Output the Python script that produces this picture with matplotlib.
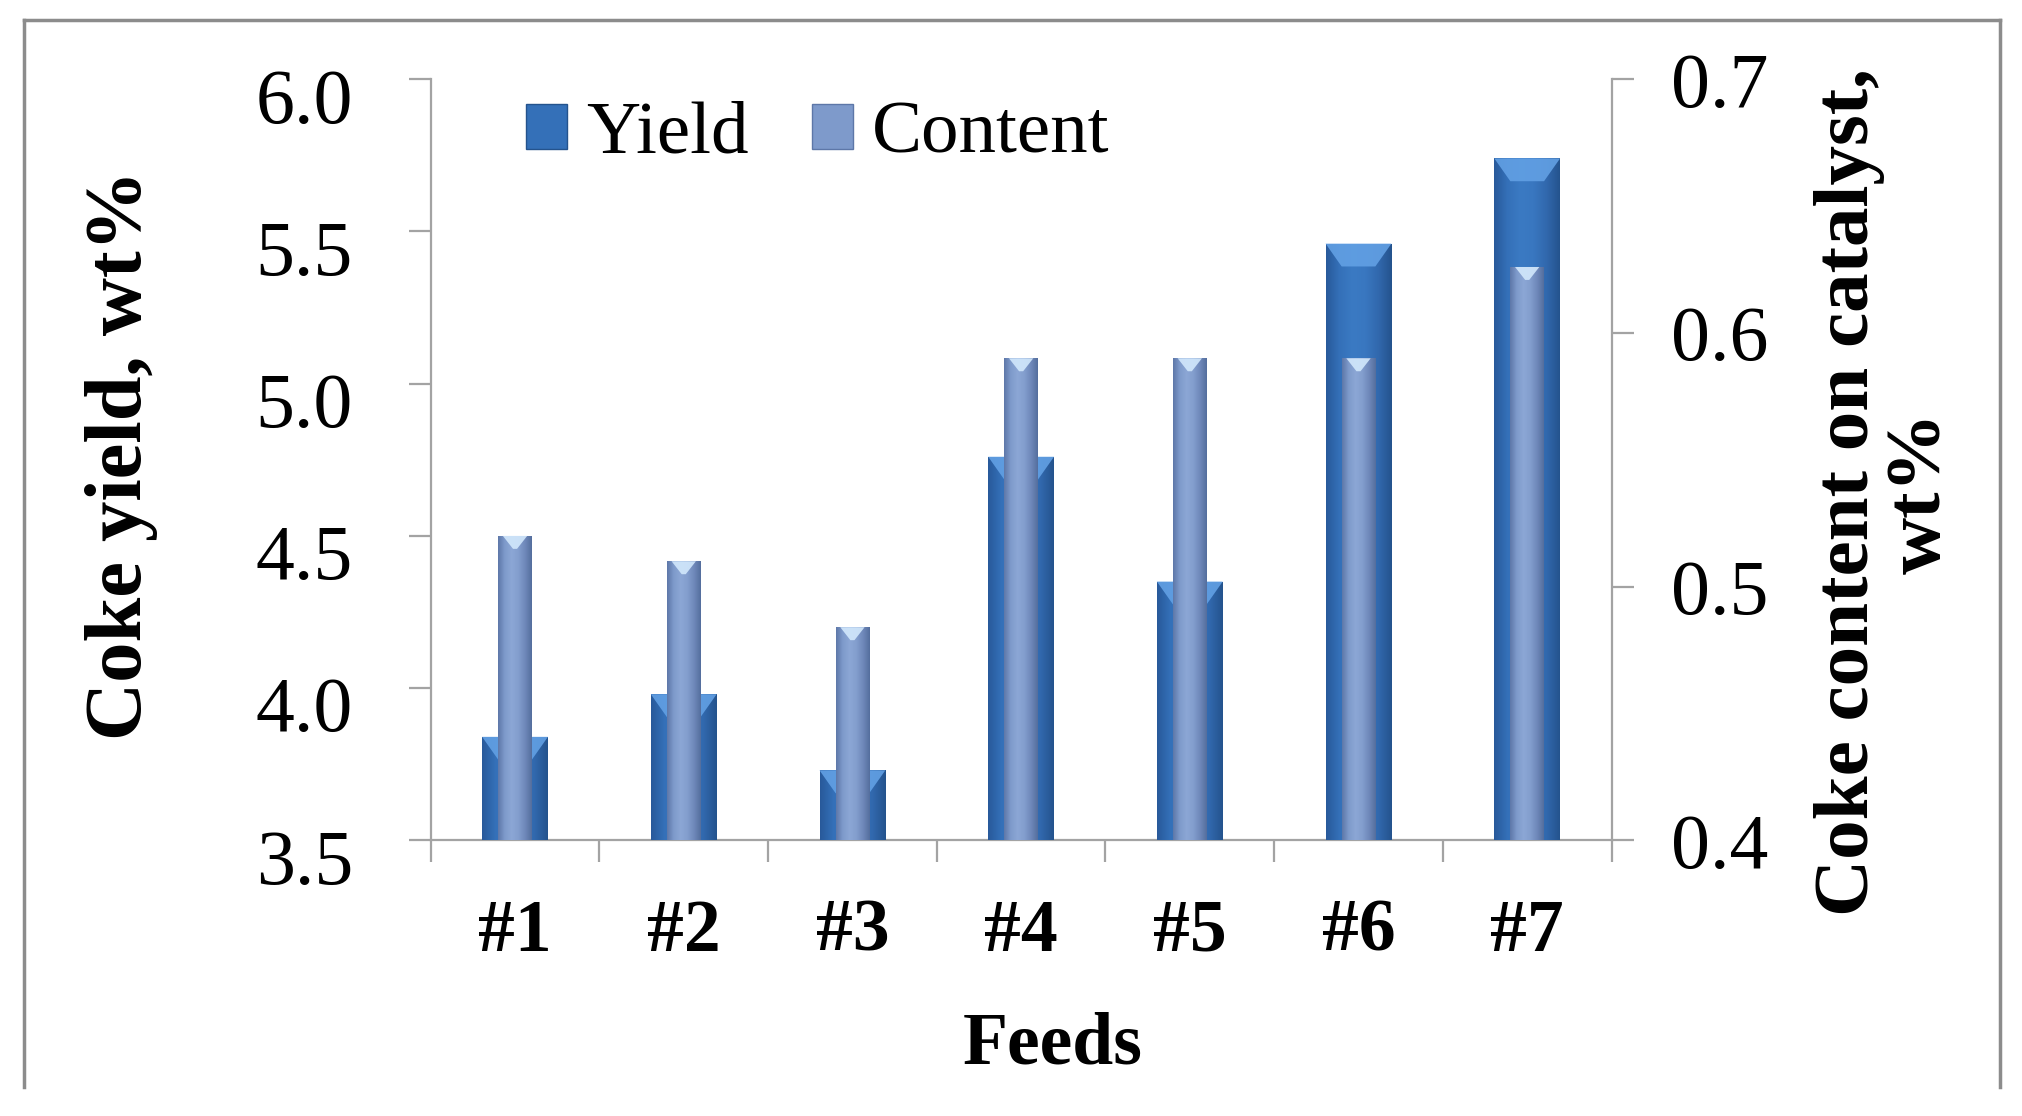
import numpy as np
import matplotlib
matplotlib.use('Agg')
import matplotlib.pyplot as plt
from matplotlib.colors import LinearSegmentedColormap
from matplotlib.patches import Polygon, Patch
from matplotlib.lines import Line2D
from matplotlib.transforms import ScaledTranslation

# values
feeds = ['#1', '#2', '#3', '#4', '#5', '#6', '#7']
coke_yield = [3.84, 3.98, 3.73, 4.76, 4.35, 5.46, 5.74]       # wt%, left axis
coke_content = [0.52, 0.51, 0.484, 0.59, 0.59, 0.59, 0.626]   # wt%, right axis
yield_ticks = [3.5, 4.0, 4.5, 5.0, 5.5, 6.0]
content_ticks = [0.4, 0.5, 0.6, 0.7]

plt.rcParams['font.family'] = ['Liberation Serif', 'DejaVu Serif']

AXIS_GREY = '#a3a3a3'
yield_cmap = LinearSegmentedColormap.from_list(
    'yield', ['#28599a', '#3470b8', '#3b7ac3', '#3977c0', '#3168ad', '#24538d'])
content_cmap = LinearSegmentedColormap.from_list(
    'content', ['#5d77a8', '#7e9acb', '#8ca7d5', '#839ece', '#6f88ba', '#546e9d'])


def shade_bars(ax, bars, cmap, bevel_color, top_in, bot_in, depth):
    # horizontal gradient clipped to each bar + a light bevel at the top
    lo, hi = ax.get_ylim()
    xl = ax.get_xlim()
    grad = np.linspace(0, 1, 256).reshape(1, -1)
    for rect in bars:
        x, w = rect.get_x(), rect.get_width()
        top = rect.get_y() + rect.get_height()
        im = ax.imshow(grad, cmap=cmap, aspect='auto',
                       extent=(x, x + w, lo, top), zorder=3)
        im.set_clip_path(rect)
        d = depth * (hi - lo)
        ax.add_patch(Polygon([(x + w * top_in, top), (x + w * (1 - top_in), top),
                              (x + w * (1 - bot_in), top - d), (x + w * bot_in, top - d)],
                             closed=True, facecolor=bevel_color, edgecolor='none',
                             alpha=0.9, zorder=4))
    ax.set_xlim(xl)
    ax.set_ylim(lo, hi)


fig = plt.figure(figsize=(20.22, 11.16), dpi=100)
ax = fig.add_axes([0.213, 0.247, 0.584, 0.682])
ax2 = ax.twinx()

x = np.arange(len(feeds))
ax.set_xlim(-0.5, len(feeds) - 0.5)
ax.set_ylim(3.5, 6.0)
ax2.set_ylim(0.4, 0.7)

b1 = ax.bar(x, coke_yield, width=0.39, color='#3470b8', zorder=2)
b2 = ax2.bar(x, coke_content, width=0.20, color='#829dcd', zorder=2)
shade_bars(ax, b1, yield_cmap, '#62a0e4', 0.0, 0.244, 0.03)
shade_bars(ax2, b2, content_cmap, '#d2e8fc', 0.14, 0.44, 0.017)

# spines and ticks
for a in (ax, ax2):
    a.spines['top'].set_visible(False)
    for s in a.spines.values():
        s.set_color(AXIS_GREY)
        s.set_linewidth(1.6)
ax.spines['right'].set_visible(False)
ax2.spines['left'].set_visible(False)
ax2.spines['bottom'].set_visible(False)

ax.set_yticks(yield_ticks)
ax.set_yticklabels([f'{v:.1f}' for v in yield_ticks])
ax2.set_yticks(content_ticks)
ax2.set_yticklabels([f'{v:.1f}' for v in content_ticks])
ax.tick_params(axis='y', direction='out', length=16, width=1.6, color=AXIS_GREY,
               labelsize=56, pad=40)
ax2.tick_params(axis='y', direction='out', length=16, width=1.6, color=AXIS_GREY,
                labelsize=56, pad=27)

# left tick labels sit a little below their ticks in the original
off = ScaledTranslation(0, -0.16, fig.dpi_scale_trans)
for t in ax.yaxis.get_major_ticks():
    t.label1.set_transform(t.label1.get_transform() + off)

ax.set_xticks(x)
ax.set_xticklabels(feeds, fontsize=53, fontweight='bold')
ax.tick_params(axis='x', which='major', length=0, pad=42)
ax.set_xticks(np.arange(-0.5, len(feeds), 1.0), minor=True)
ax.tick_params(axis='x', which='minor', direction='out', length=16, width=1.6,
               color=AXIS_GREY)

ax.set_xlabel('Feeds', fontsize=53, fontweight='bold')
ax.xaxis.set_label_coords(0.527, -0.269)
ax.xaxis.label.set_va('center')

ax.set_ylabel('Coke yield, wt%', fontsize=58, fontweight='bold')
ax.yaxis.set_label_coords(-0.262, 0.507)
ax.yaxis.label.set_va('center')

ax2.set_ylabel('Coke content on catalyst,\nwt%', fontsize=57, fontweight='bold',
               linespacing=1.0, rotation=90)
ax2.yaxis.set_label_coords(1.232, 0.457)
ax2.yaxis.label.set_va('center')
ax2.yaxis.label.set_ha('center')

handles = [Patch(facecolor='#3470b8', edgecolor='#24538d'),
           Patch(facecolor='#7e9acb', edgecolor='#5d77a8')]
ax2.legend(handles, ['Yield', 'Content'], loc='center left',
           bbox_to_anchor=(0.260, 0.879), bbox_transform=fig.transFigure,
           ncol=2, frameon=False, fontsize=54, handlelength=0.55,
           handleheight=0.55, handletextpad=0.25, columnspacing=0.85,
           borderpad=0, borderaxespad=0)

# outer frame of the figure (open at the bottom)
frame = dict(transform=fig.transFigure, color='#8c8c8c', linewidth=2.5)
fig.add_artist(Line2D([0.012, 0.012], [0.026, 0.982], **frame))
fig.add_artist(Line2D([0.012, 0.989], [0.982, 0.982], **frame))
fig.add_artist(Line2D([0.989, 0.989], [0.982, 0.026], **frame))

fig.savefig('out.png', dpi=100)
